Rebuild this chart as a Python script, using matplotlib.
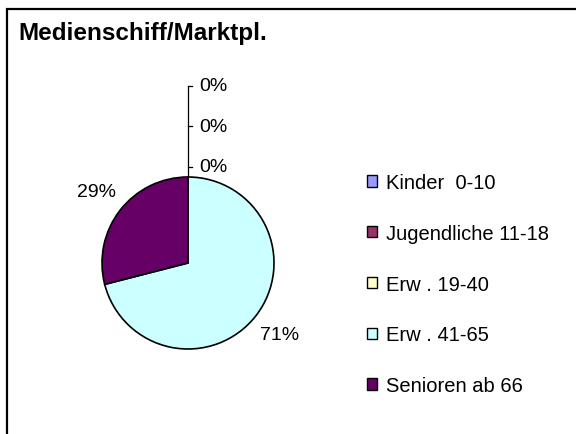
import matplotlib.pyplot as plt
from matplotlib.patches import Rectangle
import numpy as np

plt.rcParams["font.family"] = ["Liberation Sans", "DejaVu Sans"]

title = "Medienschiff/Marktpl."
categories = ["Kinder  0-10", "Jugendliche 11-18", "Erw . 19-40", "Erw . 41-65", "Senioren ab 66"]
values = [0, 0, 0, 71, 29]
colors = ["#9999FF", "#993366", "#FFFFCC", "#CCFFFF", "#660066"]

W, H = 576, 435


def main():
    fig = plt.figure(figsize=(W / 100, H / 100), dpi=100)

    # outer chart frame (right and bottom edges fall outside the image)
    fig.patches.append(Rectangle((7 / W, -0.05), 1.2, 1 - 10 / H + 0.05,
                                 transform=fig.transFigure, fill=False,
                                 edgecolor="black", linewidth=1.6))
    fig.text(18 / W, 1 - 40 / H, title, fontsize=17.5, fontweight="bold",
             va="baseline", ha="left")

    # pie axes: radius 1 ~ 86 px, centre at (188, 264)
    span = 2.5
    size = 2 * span * 86
    ax = fig.add_axes([(188 - size / 2) / W, (H - 264 - size / 2) / H, size / W, size / H])

    wedges, _ = ax.pie(values, colors=colors, startangle=90, counterclock=False,
                       wedgeprops=dict(edgecolor="black", linewidth=1.2))
    ax.set_xlim(-span, span)
    ax.set_ylim(-span, span)
    ax.set_aspect("equal")
    ax.axis("off")

    # labels for non-zero slices, outside the pie
    total = sum(values)
    for w, v in zip(wedges, values):
        if v == 0:
            continue
        mid = np.deg2rad((w.theta1 + w.theta2) / 2)
        ax.text(1.35 * np.cos(mid), 1.35 * np.sin(mid), f"{v / total:.0%}",
                fontsize=14, ha="center", va="center")

    # zero slices stacked above the pie with a leader line
    zero_idx = [i for i, v in enumerate(values) if v == 0]
    ys = [1.12 + 0.47 * k for k in range(len(zero_idx))]
    ax.plot([0, 0], [1, ys[-1]], color="black", linewidth=0.9)
    for y in ys:
        ax.plot([0, 0.05], [y, y], color="black", linewidth=0.9)
        ax.text(0.13, y, "0%", fontsize=14, ha="left", va="center")

    handles = [Rectangle((0, 0), 1, 1, facecolor=c, edgecolor="black", linewidth=1.0)
               for c in colors]
    fig.legend(handles, categories, loc="upper left",
               bbox_to_anchor=(367 / W, 1 - 174 / H), frameon=False,
               fontsize=14.5, handlelength=0.5, handleheight=0.5,
               handletextpad=0.45, labelspacing=1.58, borderpad=0, borderaxespad=0)

    fig.savefig("out.png", dpi=100)


if __name__ == "__main__":
    main()
